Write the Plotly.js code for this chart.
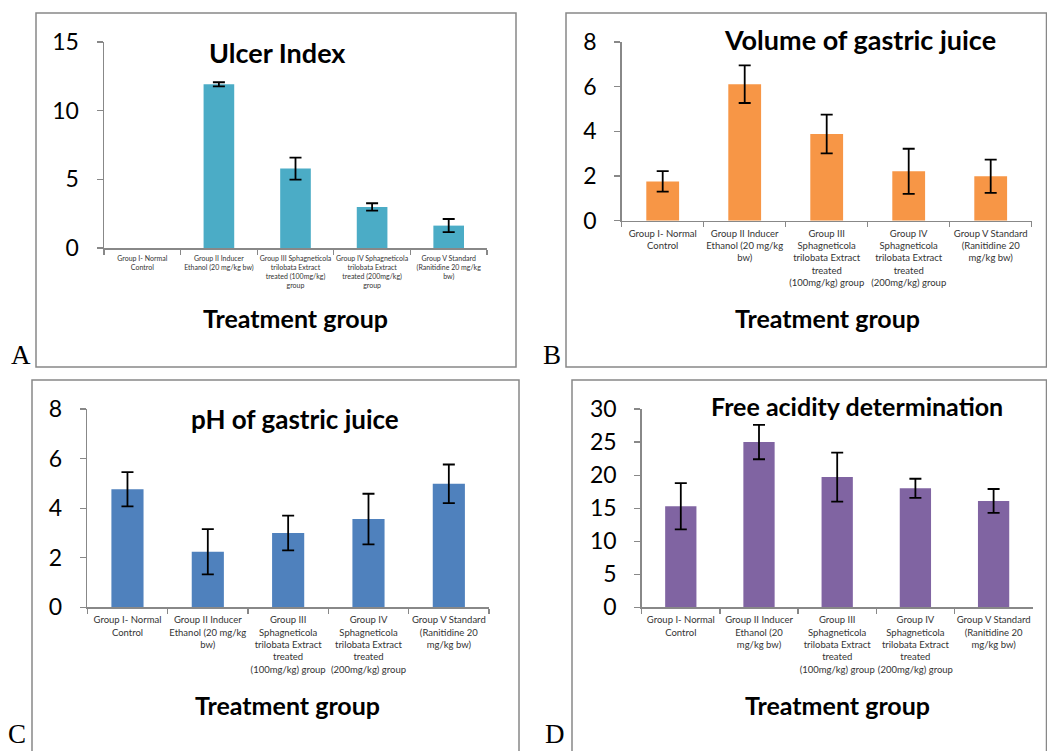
<!DOCTYPE html>
<html><head><meta charset="utf-8">
<script src="https://cdn.plot.ly/plotly-3.0.1.min.js"></script>
<style>html,body{margin:0;padding:0;background:#fff}#chart{width:1047px;height:751px}</style>
</head><body><div id="chart"></div>
<script>
// ---- data ----
const categories = ["Group I", "Group II", "Group III", "Group IV", "Group V"];

const ulcerIndex    = [0, 11.92, 5.78, 2.99, 1.63];
const ulcerIndexErr = [0, 0.15, 0.80, 0.27, 0.48];

const gastricVolume    = [1.76, 6.11, 3.88, 2.21, 1.99];
const gastricVolumeErr = [0.46, 0.84, 0.87, 1.01, 0.74];

const gastricPH    = [4.76, 2.24, 3.00, 3.56, 4.98];
const gastricPHErr = [0.69, 0.91, 0.70, 1.02, 0.78];

const freeAcidity    = [15.3, 25.0, 19.7, 18.0, 16.1];
const freeAcidityErr = [3.5, 2.6, 3.7, 1.45, 1.8];

const tickLabelsA = ["Group I- Normal<br>Control", "Group II Inducer<br>Ethanol (20 mg/kg bw)",
  "Group III Sphagneticola<br>trilobata Extract<br>treated (100mg/kg)<br>group",
  "Group IV Sphagneticola<br>trilobata Extract<br>treated (200mg/kg)<br>group",
  "Group V Standard<br>(Ranitidine 20 mg/kg<br>bw)"];
const tickLabelsBC = ["Group I- Normal<br>Control", "Group II Inducer<br>Ethanol (20 mg/kg<br>bw)",
  "Group III<br>Sphagneticola<br>trilobata Extract<br>treated<br>(100mg/kg) group",
  "Group IV<br>Sphagneticola<br>trilobata Extract<br>treated<br>(200mg/kg) group",
  "Group V Standard<br>(Ranitidine 20<br>mg/kg bw)"];
const tickLabelsD = ["Group I- Normal<br>Control", "Group II Inducer<br>Ethanol (20<br>mg/kg bw)",
  "Group III<br>Sphagneticola<br>trilobata Extract<br>treated<br>(100mg/kg) group",
  "Group IV<br>Sphagneticola<br>trilobata Extract<br>treated<br>(200mg/kg) group",
  "Group V Standard<br>(Ranitidine 20<br>mg/kg bw)"];

const titles = ["Ulcer Index", "Volume of gastric juice", "pH of gastric juice", "Free acidity determination"];
const xTitle = "Treatment group";
const panelLetters = ["A", "B", "C", "D"];

// ---- layout helpers ----
const W = 1047, H = 751;
const px = v => v / W;
const py = v => 1 - v / H;
const FONT = "Lato, 'Open Sans', sans-serif";
const GRAY = "#888888";

function bar(y, err, color, xa, ya) {
  return {
    type: "bar", x: categories, y: y, xaxis: xa, yaxis: ya,
    marker: {color: color, line: {width: 0}},
    // a zero error (empty group) is not drawn
    error_y: {type: "data", array: err.map(e => e > 0 ? e : NaN), visible: true, color: "#000", thickness: 1.8, width: 6},
    hoverinfo: "y"
  };
}

const data = [
  bar(ulcerIndex, ulcerIndexErr, "#4BACC6", "x", "y"),
  bar(gastricVolume, gastricVolumeErr, "#F79646", "x2", "y2"),
  bar(gastricPH, gastricPHErr, "#4F81BD", "x3", "y3"),
  bar(freeAcidity, freeAcidityErr, "#8064A2", "x4", "y4")
];

function xaxis(x0, x1, anchor, labels, fs) {
  return {
    domain: [px(x0), px(x1)], anchor: anchor, type: "category",
    tickvals: categories, ticktext: labels, tickson: "boundaries",
    ticks: "outside", ticklen: 5, tickcolor: GRAY, tickwidth: 1.2,
    showline: true, linecolor: GRAY, linewidth: 1.5,
    showgrid: false, zeroline: false, fixedrange: true,
    ticklabelstandoff: 3,
    tickfont: {family: FONT, size: fs, color: "#333"}, tickangle: 0
  };
}
function yaxis(y0, y1, anchor, range, dtick) {
  return {
    domain: [py(y1), py(y0)], anchor: anchor, range: range, dtick: dtick,
    ticks: "outside", ticklen: 6, tickcolor: GRAY, tickwidth: 1.2,
    showline: true, linecolor: GRAY, linewidth: 1.5,
    showgrid: false, zeroline: false, fixedrange: true,
    ticklabelstandoff: 13,
    tickfont: {family: FONT, size: 23, color: "#000"}
  };
}

function box(x0, y0, x1, y1) {
  return {type: "rect", xref: "paper", yref: "paper", x0: px(x0), x1: px(x1), y0: py(y1), y1: py(y0),
    line: {color: GRAY, width: 1.5}, fillcolor: "rgba(0,0,0,0)", layer: "below"};
}
function txt(t, x, y, size) {
  return {text: t, xref: "paper", yref: "paper", x: px(x), y: py(y), showarrow: false,
    xanchor: "center", yanchor: "middle",
    font: {family: FONT, size: size, color: "#000", weight: "bold"}};
}
function letter(t, x, y) {
  return {text: t, xref: "paper", yref: "paper", x: px(x), y: py(y), showarrow: false,
    xanchor: "left", yanchor: "bottom", font: {family: "'Liberation Serif', 'DejaVu Serif', serif", size: 27, color: "#000"}};
}

const layout = {
  width: W, height: H, margin: {l: 0, r: 0, t: 0, b: 0},
  paper_bgcolor: "#fff", plot_bgcolor: "rgba(0,0,0,0)",
  showlegend: false, bargap: 0.6,
  xaxis:  xaxis(104, 487, "y", tickLabelsA, 7),
  yaxis:  yaxis(42, 248, "x", [0, 15], 5),
  xaxis2: xaxis(621.7, 1031.7, "y2", tickLabelsBC, 9.5),
  yaxis2: yaxis(42, 220.7, "x2", [0, 8], 2),
  xaxis3: xaxis(87.3, 489, "y3", tickLabelsBC, 9.5),
  yaxis3: yaxis(409, 607.3, "x3", [0, 8], 2),
  xaxis4: xaxis(641.7, 1032.7, "y4", tickLabelsD, 9.5),
  yaxis4: yaxis(409, 607.3, "x4", [0, 30], 5),
  shapes: [box(36, 13, 516, 367), box(566, 13, 1046.5, 367), box(32, 380, 519, 760), box(572, 380, 1046.5, 760)],
  annotations: [
    txt(titles[0], 277, 52, 27),
    txt(titles[1], 860, 39, 27),
    txt(titles[2], 295, 419, 26),
    txt(titles[3], 857, 406, 25),
    txt(xTitle, 295, 318, 25),
    txt(xTitle, 827, 318, 25),
    txt(xTitle, 287, 705, 25),
    txt(xTitle, 837, 705, 25),
    letter(panelLetters[0], 9, 372),
    letter(panelLetters[1], 541, 372),
    letter(panelLetters[2], 6, 751),
    letter(panelLetters[3], 543, 751)
  ]
};

Plotly.newPlot("chart", data, layout, {staticPlot: true, displayModeBar: false});
</script>
</body></html>
